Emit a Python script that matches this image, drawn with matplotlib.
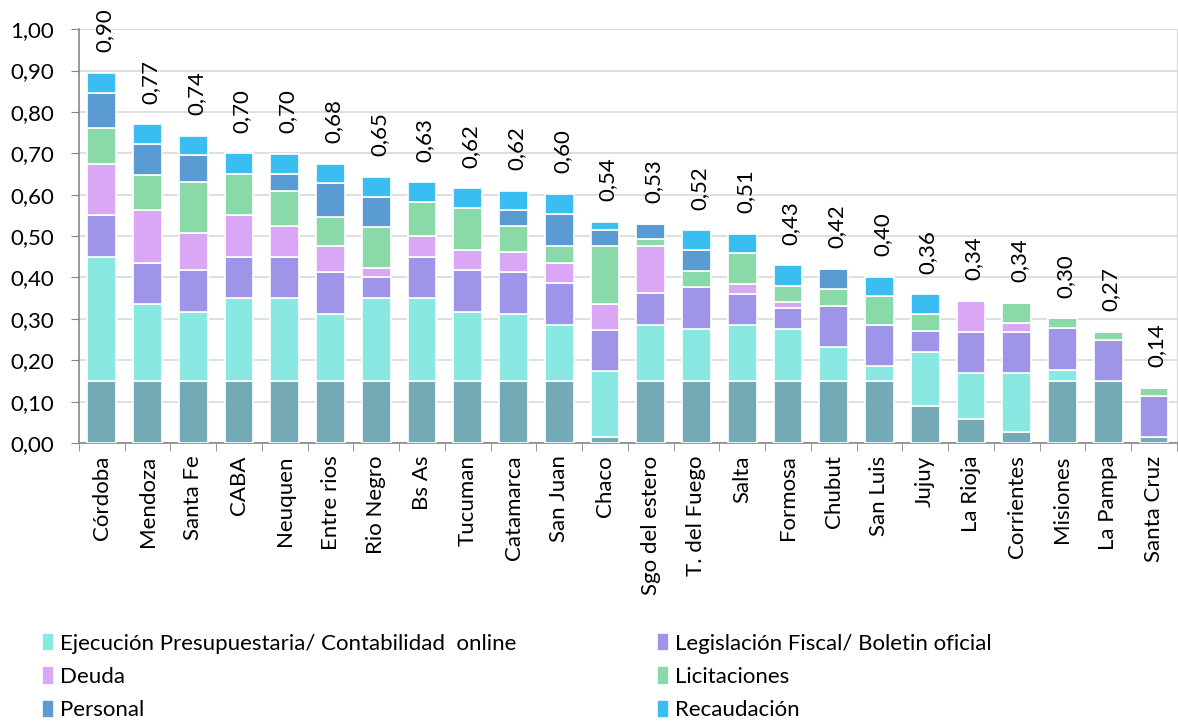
import matplotlib
matplotlib.use("Agg")
import matplotlib.pyplot as plt
import numpy as np

provincias = ["Córdoba", "Mendoza", "Santa Fe", "CABA", "Neuquen", "Entre rios", "Rio Negro",
              "Bs As", "Tucuman", "Catamarca", "San Juan", "Chaco", "Sgo del estero",
              "T. del Fuego", "Salta", "Formosa", "Chubut", "San Luis", "Jujuy", "La Rioja",
              "Corrientes", "Misiones", "La Pampa", "Santa Cruz"]

# base segment (no legend entry in the original)
base = [0.15, 0.15, 0.15, 0.15, 0.15, 0.15, 0.15, 0.15, 0.15, 0.15, 0.15, 0.014,
        0.15, 0.15, 0.15, 0.15, 0.15, 0.15, 0.09, 0.058, 0.026, 0.15, 0.15, 0.014]
ejecucion = [0.30, 0.185, 0.167, 0.20, 0.20, 0.162, 0.20, 0.20, 0.167, 0.162, 0.136, 0.159,
             0.136, 0.126, 0.136, 0.126, 0.081, 0.035, 0.131, 0.111, 0.143, 0.027, 0.0, 0.0]
legislacion = [0.10, 0.10, 0.10, 0.10, 0.10, 0.10, 0.05, 0.10, 0.10, 0.10, 0.10, 0.099,
               0.077, 0.10, 0.073, 0.05, 0.099, 0.10, 0.05, 0.099, 0.099, 0.10, 0.10, 0.099]
deuda = [0.125, 0.128, 0.09, 0.10, 0.075, 0.065, 0.023, 0.05, 0.05, 0.05, 0.05, 0.065,
         0.114, 0.0, 0.026, 0.014, 0.0, 0.0, 0.0, 0.075, 0.023, 0.0, 0.0, 0.0]
licitaciones = [0.085, 0.085, 0.124, 0.10, 0.084, 0.07, 0.099, 0.082, 0.10, 0.063, 0.041, 0.14,
                0.017, 0.04, 0.074, 0.04, 0.042, 0.069, 0.04, 0.0, 0.047, 0.024, 0.018, 0.021]
personal = [0.085, 0.074, 0.064, 0.0, 0.04, 0.08, 0.072, 0.0, 0.0, 0.037, 0.077, 0.037,
            0.036, 0.05, 0.0, 0.0, 0.048, 0.0, 0.0, 0.0, 0.0, 0.0, 0.0, 0.0]
recaudacion = [0.05, 0.048, 0.047, 0.05, 0.05, 0.048, 0.049, 0.048, 0.048, 0.048, 0.048, 0.021,
               0.0, 0.048, 0.047, 0.049, 0.0, 0.048, 0.048, 0.0, 0.0, 0.0, 0.0, 0.0]
totales = ["0,90", "0,77", "0,74", "0,70", "0,70", "0,68", "0,65", "0,63", "0,62", "0,62",
           "0,60", "0,54", "0,53", "0,52", "0,51", "0,43", "0,42", "0,40", "0,36", "0,34",
           "0,34", "0,30", "0,27", "0,14"]

series = [
    (base, "Presupuesto", "#74aab6"),
    (ejecucion, "Ejecución Presupuestaria/ Contabilidad  online", "#8ae8e2"),
    (legislacion, "Legislación Fiscal/ Boletin oficial", "#9e94e8"),
    (deuda, "Deuda", "#daa6f6"),
    (licitaciones, "Licitaciones", "#8ad9a9"),
    (personal, "Personal", "#5a9bd3"),
    (recaudacion, "Recaudación", "#3abdf0"),
]

plt.rcParams['font.family'] = ['Lato', 'DejaVu Sans']
fs = 16

fig = plt.figure(figsize=(11.78, 7.21), dpi=100)
ax = fig.add_axes([0.067, 0.3856, 0.932, 0.574])

x = np.arange(len(provincias))
bottom = np.zeros(len(provincias))
handles = {}
for vals, name, col in series:
    v = np.array(vals)
    b = ax.bar(x, v, 0.63, bottom=bottom, color=col, edgecolor="white", linewidth=1.2, zorder=3)
    handles[name] = b
    bottom += v

for i, t in enumerate(totales):
    ax.text(x[i] + 0.06, bottom[i] + 0.05, t, rotation=90, ha="center", va="bottom", fontsize=fs)

ax.set_xlim(-0.5, len(provincias) - 0.5)
ax.set_ylim(0, 1.0)
ax.set_yticks(np.arange(0, 1.01, 0.1))
ax.set_yticklabels([f"{v:.2f}".replace(".", ",") for v in np.arange(0, 1.01, 0.1)], fontsize=fs)
ax.set_xticks(x)
ax.set_xticklabels(provincias, rotation=90, fontsize=fs)
ax.set_xticks(np.arange(-0.5, len(provincias)), minor=True)
ax.tick_params(axis="x", which="major", length=0, pad=9)
ax.tick_params(axis="x", which="minor", length=6, color="#868686", direction="out")
ax.tick_params(axis="y", length=6, color="#868686", pad=12)

ax.yaxis.grid(True, color="#d9d9d9", linewidth=1.2, zorder=0)
for s in ["left", "bottom"]:
    ax.spines[s].set_color("#868686")
    ax.spines[s].set_linewidth(1.2)
ax.spines["top"].set_visible(False)
ax.spines["right"].set_color("#d9d9d9")

names = [s[1] for s in series]
leg_kw = dict(loc="upper left", frameon=False, fontsize=fs, handlelength=0.55,
              handleheight=0.9, handletextpad=0.25, labelspacing=0.56, borderaxespad=0)
col1 = [names[1], names[3], names[5]]
col2 = [names[2], names[4], names[6]]
fig.legend([handles[n] for n in col1], col1, bbox_to_anchor=(0.028, 0.1345), **leg_kw)
fig.legend([handles[n] for n in col2], col2, bbox_to_anchor=(0.550, 0.1345), **leg_kw)

fig.savefig("out.png", dpi=100)
